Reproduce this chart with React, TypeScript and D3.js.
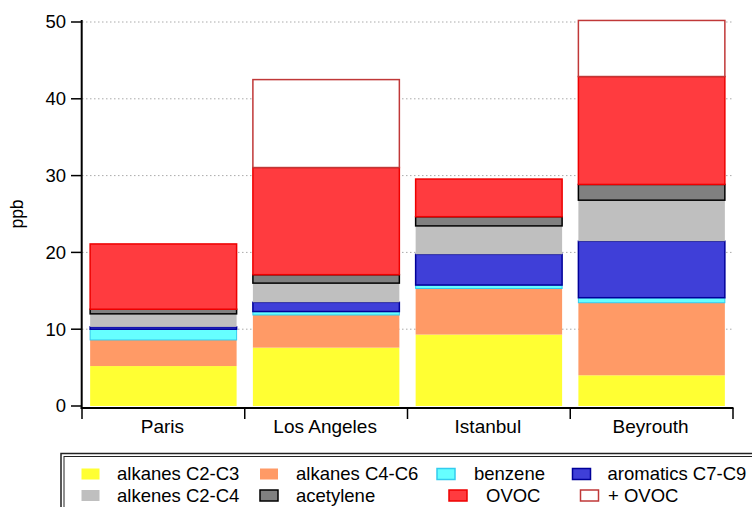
import React from "react";
import * as d3 from "d3";

const categories = ["Paris", "Los Angeles", "Istanbul", "Beyrouth"];
const alkanesC2C3 = [5.2, 7.6, 9.3, 4.0];
const alkanesC4C6 = [3.4, 4.25, 6.0, 9.45];
const benzene = [1.4, 0.45, 0.45, 0.65];
const aromatics = [0.3, 1.2, 4.0, 7.35];
const alkenes = [1.7, 2.5, 3.7, 5.35];
const acetylene = [0.6, 1.1, 1.2, 2.05];
const ovoc = [8.5, 13.95, 4.9, 14.05];
const plusOvoc = [0, 11.45, 0, 7.3];
const yTicks = [0, 10, 20, 30, 40, 50];

const seriesDefs = [
  { key: "a23", label: "alkanes C2-C3", values: alkanesC2C3, fill: "#ffff33", stroke: "none", sw: 0 },
  { key: "a46", label: "alkanes C4-C6", values: alkanesC4C6, fill: "#ff9a66", stroke: "none", sw: 0 },
  { key: "benz", label: "benzene", values: benzene, fill: "#66ffff", stroke: "#33ccee", sw: 1 },
  { key: "arom", label: "aromatics C7-C9", values: aromatics, fill: "#3f3fd8", stroke: "#000099", sw: 1.5 },
  { key: "alke", label: "alkenes C2-C4", values: alkenes, fill: "#bfbfbf", stroke: "none", sw: 0 },
  { key: "acet", label: "acetylene", values: acetylene, fill: "#808080", stroke: "#000000", sw: 1.5 },
  { key: "ovoc", label: "OVOC", values: ovoc, fill: "#ff3b3f", stroke: "#ee0000", sw: 1.5 },
  { key: "povoc", label: "+ OVOC", values: plusOvoc, fill: "#ffffff", stroke: "#c03838", sw: 1.5 },
];

const legendLayout = [
  { key: "a23", col: 0, row: 0 },
  { key: "a46", col: 1, row: 0 },
  { key: "benz", col: 2, row: 0 },
  { key: "arom", col: 3, row: 0 },
  { key: "alke", col: 0, row: 1 },
  { key: "acet", col: 1, row: 1 },
  { key: "ovoc", col: 2, row: 1 },
  { key: "povoc", col: 3, row: 1 },
];

const W = 752;
const H = 507;
const FONT = "Liberation Sans, Arial, sans-serif";

export default function App() {
  const x = d3.scaleBand<string>().domain(categories).range([82, 733]).paddingInner(0.1).paddingOuter(0.05);
  const y = d3.scaleLinear().domain([0, 50]).range([406, 22]);
  const rows = categories.map((c, i) => {
    const o: any = { cat: c };
    seriesDefs.forEach((s) => (o[s.key] = s.values[i]));
    return o;
  });
  const stacked = d3.stack().keys(seriesDefs.map((s) => s.key))(rows as any);
  const step = x.step();
  const tickXs = categories.map((c) => (x(c) as number) - step * 0.05).concat([(x(categories[3]) as number) + x.bandwidth() + step * 0.05]);

  const legendColSwatch = [81.5, 260, 437, 572.5];
  const legendColText = [117, 296, 474, 607.5];
  const legendOverride: any = { ovoc: { sx: 449, tx: 486 }, povoc: { sx: 580.5, tx: 608 } };
  const rowY = [474, 495.5];

  return (
    <svg width={W} height={H} style={{ position: "absolute", left: 0, top: 0, background: "#fff" }} fontFamily={FONT}>
      {yTicks.filter((t) => t > 0).map((t) => (
        <line key={"g" + t} x1={82} x2={732} y1={y(t)} y2={y(t)} stroke="#aaaaaa" strokeWidth={1} strokeDasharray="1.5,2.5" />
      ))}
      {stacked.map((layer, li) => {
        const s = seriesDefs[li];
        return (
          <g key={s.key}>
            {layer.map((d, i) => {
              const v = d[1] - d[0];
              if (v <= 0) return null;
              return (
                <rect
                  key={i}
                  x={x(categories[i])}
                  width={x.bandwidth()}
                  y={y(d[1])}
                  height={y(d[0]) - y(d[1])}
                  fill={s.fill}
                  stroke={s.stroke}
                  strokeWidth={s.sw}
                />
              );
            })}
          </g>
        );
      })}
      <line x1={81.7} x2={81.7} y1={20} y2={409} stroke="#000" strokeWidth={2} />
      <line x1={80.7} x2={733.5} y1={408} y2={408} stroke="#000" strokeWidth={2} />
      {yTicks.map((t) => (
        <g key={"yt" + t}>
          <line x1={71} x2={81} y1={y(t)} y2={y(t)} stroke="#000" strokeWidth={1.5} />
          <text x={66} y={y(t)} dy="0.35em" textAnchor="end" fontSize={18.5} fill="#000">
            {t}
          </text>
        </g>
      ))}
      {tickXs.map((tx, i) => (
        <line key={"xt" + i} x1={tx} x2={tx} y1={408} y2={419} stroke="#000" strokeWidth={1.5} />
      ))}
      {categories.map((c) => (
        <text key={c} x={(x(c) as number) + x.bandwidth() / 2 - 1} y={432.5} textAnchor="middle" fontSize={19} fill="#000">
          {c}
        </text>
      ))}
      <text transform={`translate(23,214) rotate(-90)`} textAnchor="middle" fontSize={17.5} fill="#000">
        ppb
      </text>
      <rect x={61} y={453.5} width={720} height={80} fill="#fff" stroke="#222" strokeWidth={1.5} />
      <rect x={64} y={456.5} width={720} height={80} fill="none" stroke="#222" strokeWidth={1} />
      {legendLayout.map((l) => {
        const s = seriesDefs.find((d) => d.key === l.key)!;
        const ov = legendOverride[l.key];
        const sx = ov ? ov.sx : legendColSwatch[l.col];
        const tx = ov ? ov.tx : legendColText[l.col];
        const cy = rowY[l.row];
        return (
          <g key={"lg" + l.key}>
            <rect x={sx} y={cy - 5.5} width={18} height={11} fill={s.fill} stroke={s.sw ? s.stroke : "none"} strokeWidth={s.sw ? 1.5 : 0} />
            <text x={tx} y={cy} dy="0.35em" fontSize={18.5} fill="#000">
              {s.label}
            </text>
          </g>
        );
      })}
    </svg>
  );
}
